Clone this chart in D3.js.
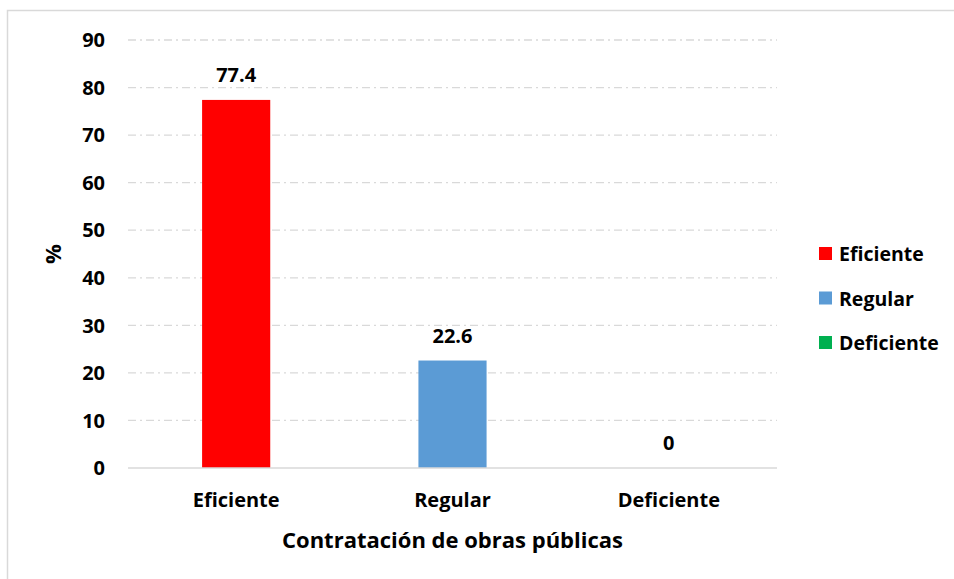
<!DOCTYPE html>
<html>
<head>
<meta charset="utf-8">
<script src="https://cdn.jsdelivr.net/npm/d3@7"></script>
<style>
body { margin: 0; background: #fff; }
text { font-family: "Open Sans", Lato, sans-serif; font-weight: bold; fill: #000; }
</style>
</head>
<body>
<div id="chart"></div>
<script>
var categories = ["Eficiente", "Regular", "Deficiente"];
var values = [77.4, 22.6, 0];
var colors = ["#ff0000", "#5b9bd5", "#00b050"];
var yTicks = [0, 10, 20, 30, 40, 50, 60, 70, 80, 90];

var W = 954, H = 579;
var m = {l: 128, r: 177, t: 40, b: 111};
var w = W - m.l - m.r, h = H - m.t - m.b;

var svg = d3.select("#chart").append("svg")
  .attr("width", W)
  .attr("height", H);

// outer frame
svg.append("rect")
  .attr("x", 7.5).attr("y", 10.5)
  .attr("width", 960).attr("height", 580)
  .attr("fill", "none")
  .attr("stroke", "#d9d9d9")
  .attr("stroke-width", 1.5);

var g = svg.append("g")
  .attr("transform", "translate(" + m.l + "," + m.t + ")");

var x = d3.scaleBand().domain(categories).range([0, w]).paddingInner(0.685).paddingOuter(0.3425);
var y = d3.scaleLinear().domain([0, 90]).range([h, 0]);

// gridlines
g.selectAll(".grid")
  .data(yTicks.filter(function(d) { return d > 0; }))
  .enter().append("line")
  .attr("x1", 0).attr("x2", w)
  .attr("y1", function(d) { return y(d); })
  .attr("y2", function(d) { return y(d); })
  .attr("stroke", "#d9d9d9")
  .attr("stroke-width", 1.3)
  .attr("stroke-dasharray", "8,4,2,4");

// y tick labels
g.selectAll(".ytick")
  .data(yTicks)
  .enter().append("text")
  .attr("x", -23)
  .attr("y", function(d) { return y(d); })
  .attr("dy", "0.36em")
  .attr("text-anchor", "end")
  .style("font-size", "20px")
  .text(function(d) { return d; });

// bars
g.selectAll(".bar")
  .data(values)
  .enter().append("rect")
  .attr("x", function(d, i) { return x(categories[i]); })
  .attr("y", function(d) { return y(d); })
  .attr("width", x.bandwidth())
  .attr("height", function(d) { return h - y(d); })
  .attr("fill", function(d, i) { return colors[i]; });

// baseline
g.append("line")
  .attr("x1", 0).attr("x2", w)
  .attr("y1", h).attr("y2", h)
  .attr("stroke", "#d9d9d9")
  .attr("stroke-width", 1.5);

// data labels
g.selectAll(".lbl")
  .data(values)
  .enter().append("text")
  .attr("x", function(d, i) { return x(categories[i]) + x.bandwidth() / 2; })
  .attr("y", function(d) { return y(d) - 18; })
  .attr("text-anchor", "middle")
  .style("font-size", "20px")
  .text(function(d) { return d; });

// x tick labels
g.selectAll(".xtick")
  .data(categories)
  .enter().append("text")
  .attr("x", function(d) { return x(d) + x.bandwidth() / 2; })
  .attr("y", h + 39)
  .attr("text-anchor", "middle")
  .style("font-size", "20px")
  .text(function(d) { return d; });

// axis titles
g.append("text")
  .attr("x", w / 2)
  .attr("y", h + 80)
  .attr("text-anchor", "middle")
  .style("font-size", "22px")
  .text("Contratación de obras públicas");

g.append("text")
  .attr("transform", "translate(-67," + (h / 2) + ") rotate(-90)")
  .attr("text-anchor", "middle")
  .style("font-size", "22px")
  .text("%");

// legend
var leg = svg.append("g").attr("transform", "translate(819,247)");
var row = leg.selectAll(".leg")
  .data(categories)
  .enter().append("g")
  .attr("transform", function(d, i) { return "translate(0," + (i * 44.5) + ")"; });
row.append("rect")
  .attr("width", 13).attr("height", 13)
  .attr("fill", function(d, i) { return colors[i]; });
row.append("text")
  .attr("x", 20).attr("y", 7)
  .attr("dy", "0.36em")
  .style("font-size", "19.5px")
  .text(function(d) { return d; });
</script>
</body>
</html>
